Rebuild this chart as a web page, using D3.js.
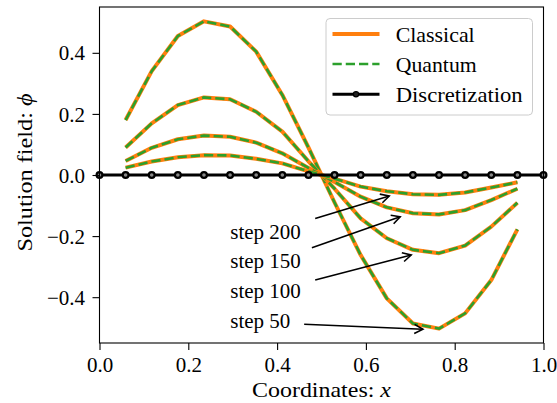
<!DOCTYPE html>
<html><head><meta charset="utf-8">
<script src="https://cdn.jsdelivr.net/npm/d3@7"></script>
<style>html,body{margin:0;padding:0;background:#fff;}svg{display:block;}</style>
</head><body>
<svg id="chart" width="557" height="403"></svg>
<script>
// ---- data ----
const nodeX = [0.0000,0.0588,0.1176,0.1765,0.2353,0.2941,0.3529,0.4118,0.4706,0.5294,0.5882,0.6471,0.7059,0.7647,0.8235,0.8824,0.9412,1.0000];
const nodeY = [0,0,0,0,0,0,0,0,0,0,0,0,0,0,0,0,0,0];
const stepNames = ["step 50","step 100","step 150","step 200"];
const classical50  = [0.180,0.340,0.455,0.503,0.486,0.404,0.262,0.090,-0.090,-0.262,-0.404,-0.486,-0.503,-0.453,-0.344,-0.178];
const classical100 = [0.090,0.169,0.229,0.254,0.248,0.207,0.142,0.045,-0.045,-0.142,-0.207,-0.245,-0.256,-0.231,-0.169,-0.091];
const classical150 = [0.046,0.089,0.117,0.129,0.125,0.106,0.071,0.023,-0.023,-0.071,-0.106,-0.125,-0.129,-0.115,-0.082,-0.045];
const classical200 = [0.024,0.044,0.058,0.065,0.064,0.053,0.038,0.012,-0.012,-0.038,-0.053,-0.063,-0.065,-0.057,-0.041,-0.024];
const quantum50  = [0.180,0.340,0.455,0.503,0.486,0.404,0.262,0.090,-0.090,-0.262,-0.404,-0.486,-0.503,-0.453,-0.344,-0.178];
const quantum100 = [0.090,0.169,0.229,0.254,0.248,0.207,0.142,0.045,-0.045,-0.142,-0.207,-0.245,-0.256,-0.231,-0.169,-0.091];
const quantum150 = [0.046,0.089,0.117,0.129,0.125,0.106,0.071,0.023,-0.023,-0.071,-0.106,-0.125,-0.129,-0.115,-0.082,-0.045];
const quantum200 = [0.024,0.044,0.058,0.065,0.064,0.053,0.038,0.012,-0.012,-0.038,-0.053,-0.063,-0.065,-0.057,-0.041,-0.024];
const xTicks = [0.0,0.2,0.4,0.6,0.8,1.0];
const yTicks = [-0.4,-0.2,0.0,0.2,0.4];
const legendLabels = ["Classical","Quantum","Discretization"];
// annotations (data coordinates): label text position, arrow start, arrow tip
const annLabels = ["step 200","step 150","step 100","step 50"];
const annTextX  = [0.2946,0.2946,0.2946,0.2946];
const annTextY  = [-0.2105,-0.3054,-0.4036,-0.5018];
const annFromX  = [0.4858,0.4784,0.4858,0.4610];
const annFromY  = [-0.1424,-0.2380,-0.3437,-0.4887];
const annToX    = [0.6525,0.6772,0.7020,0.7284];
const annToY    = [-0.0687,-0.1365,-0.2619,-0.5051];

// ---- layout ----
const L = 99.5, R = 543.5, T = 7, B = 343;
const FONT = "'Liberation Serif',serif";
const ORANGE = "#ff7f0e", GREEN = "#2ca02c";
const svg = d3.select("#chart");
const x = d3.scaleLinear().domain([0,1]).range([L,R]);
const y = d3.scaleLinear().domain([-0.55,0.55]).range([B,T]);

const interiorX = nodeX.slice(1,17);
const classical = [classical50,classical100,classical150,classical200];
const quantum = [quantum50,quantum100,quantum150,quantum200];
const line = d3.line().x(d=>x(d[0])).y(d=>y(d[1]));

const plot = svg.append("g");
classical.forEach((vals,k)=>{
  const pts = interiorX.map((xv,i)=>[xv,vals[i]]);
  plot.append("path").attr("d",line(pts)).attr("fill","none")
    .attr("stroke",ORANGE).attr("stroke-width",4).attr("stroke-linejoin","round");
  const qpts = interiorX.map((xv,i)=>[xv,quantum[k][i]]);
  plot.append("path").attr("d",line(qpts)).attr("fill","none")
    .attr("stroke",GREEN).attr("stroke-width",2.6).attr("stroke-dasharray","9.25,4");
});
// discretization
const dpts = nodeX.map((xv,i)=>[xv,nodeY[i]]);
plot.append("path").attr("d",line(dpts)).attr("fill","none")
  .attr("stroke","#000").attr("stroke-width",3);
plot.selectAll("circle.node").data(dpts).join("circle").attr("class","node")
  .attr("cx",d=>x(d[0])).attr("cy",d=>y(d[1])).attr("r",2.9)
  .attr("fill","#888").attr("stroke","#000").attr("stroke-width",2.2);

// frame
svg.append("rect").attr("x",L).attr("y",T).attr("width",R-L).attr("height",B-T)
  .attr("fill","none").attr("stroke","#000").attr("stroke-width",1.1);

// axes
const xAxis = d3.axisBottom(x).tickValues(xTicks).tickSize(7).tickPadding(0).tickFormat(d3.format(".1f"));
const gx = svg.append("g").attr("transform",`translate(0,${B})`).call(xAxis);
gx.select(".domain").remove();
gx.selectAll(".tick line").attr("stroke","#000").attr("stroke-width",1.1);
gx.selectAll(".tick text").attr("font-family",FONT).attr("font-size",21).attr("fill","#000")
  .attr("y",29).attr("dy",0);
const yAxis = d3.axisLeft(y).tickValues(yTicks).tickSize(7).tickPadding(7)
  .tickFormat(d=>d3.format(".1f")(d).replace("-","\u2212"));
const gy = svg.append("g").attr("transform",`translate(${L},0)`).call(yAxis);
gy.select(".domain").remove();
gy.selectAll(".tick line").attr("stroke","#000").attr("stroke-width",1.1);
gy.selectAll(".tick text").attr("font-family",FONT).attr("font-size",21).attr("fill","#000")
  .attr("dy","0.34em").attr("x",-14.5);

// axis labels
const xl = svg.append("text").attr("x",(L+R)/2).attr("y",397).attr("text-anchor","middle")
  .attr("font-family",FONT).attr("font-size",21).attr("textLength",139).attr("lengthAdjust","spacingAndGlyphs");
xl.append("tspan").text("Coordinates: ");
xl.append("tspan").attr("font-style","italic").text("x");
const yl = svg.append("text").attr("transform","translate(32,172.5) rotate(-90)").attr("text-anchor","middle")
  .attr("font-family",FONT).attr("font-size",21).attr("textLength",158).attr("lengthAdjust","spacingAndGlyphs");
yl.append("tspan").text("Solution field: ");
yl.append("tspan").attr("font-style","italic").text("\u03D5");

// annotations
annLabels.forEach((lab,i)=>{
  svg.append("text").attr("x",x(annTextX[i])).attr("y",y(annTextY[i]))
    .attr("font-family",FONT).attr("font-size",21).attr("fill","#000").text(lab);
  const x0=x(annFromX[i]), y0=y(annFromY[i]), x1=x(annToX[i]), y1=y(annToY[i]);
  const ang=Math.atan2(y1-y0,x1-x0), hl=8.5, hw=4.5;
  const bx=x1-hl*Math.cos(ang), by=y1-hl*Math.sin(ang);
  const px=-Math.sin(ang), py=Math.cos(ang);
  svg.append("line").attr("x1",x0).attr("y1",y0).attr("x2",x1).attr("y2",y1)
    .attr("stroke","#000").attr("stroke-width",1.6);
  svg.append("path").attr("d",`M${bx+px*hw},${by+py*hw}L${x1},${y1}L${bx-px*hw},${by-py*hw}`)
    .attr("fill","none").attr("stroke","#000").attr("stroke-width",1.6).attr("stroke-linejoin","miter");
});

// legend
const lg = svg.append("g");
lg.append("rect").attr("x",326).attr("y",18.5).attr("width",206.5).attr("height",96.5).attr("rx",4)
  .attr("fill","#fff").attr("fill-opacity",0.8).attr("stroke","#cccccc").attr("stroke-width",1);
const rowsY=[34,64,94.3];
const textLens=[79,81,127];
legendLabels.forEach((lab,i)=>{
  const ly=rowsY[i];
  const ln = lg.append("line").attr("x1",332.5).attr("x2",379.5).attr("y1",ly).attr("y2",ly);
  if(i===0) ln.attr("stroke",ORANGE).attr("stroke-width",4);
  if(i===1) ln.attr("stroke",GREEN).attr("stroke-width",2.6).attr("stroke-dasharray","9.25,4");
  if(i===2){ ln.attr("stroke","#000").attr("stroke-width",3);
    lg.append("circle").attr("cx",356).attr("cy",ly).attr("r",2.6).attr("fill","#222").attr("stroke","#000").attr("stroke-width",1.2); }
  lg.append("text").attr("x",395.7).attr("y",ly+8).attr("font-family",FONT).attr("font-size",21)
    .attr("textLength",textLens[i]).attr("lengthAdjust","spacingAndGlyphs").text(lab);
});
</script>
</body></html>
